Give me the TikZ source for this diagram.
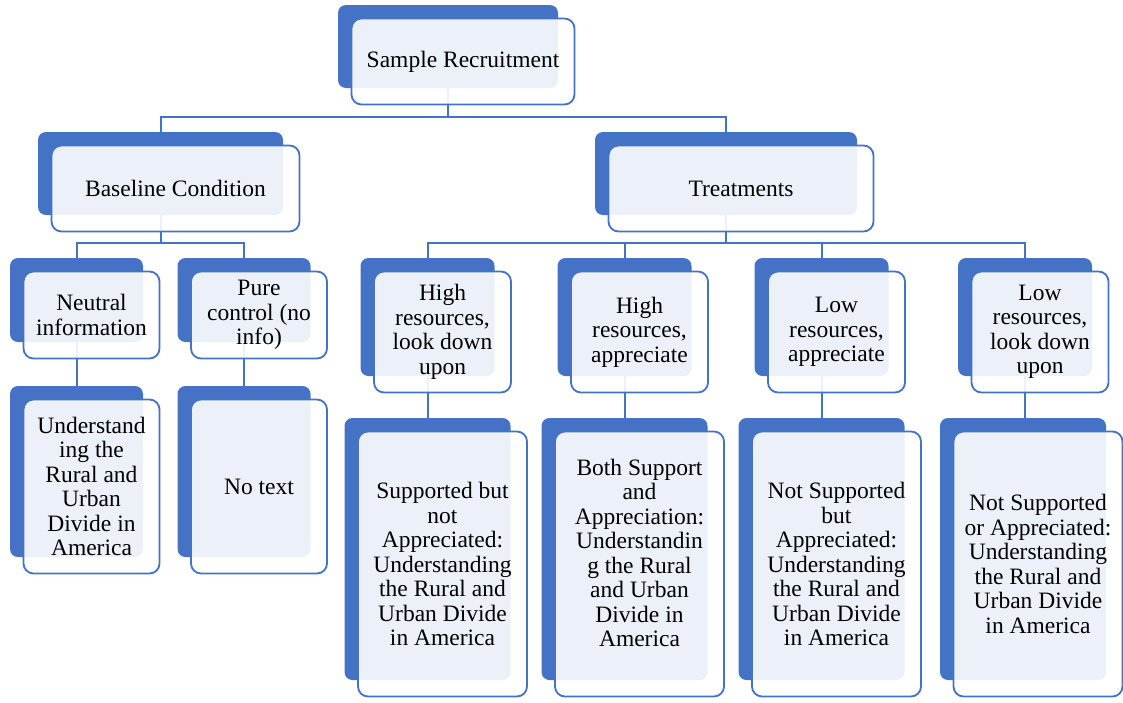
\documentclass[tikz,border=0pt]{standalone}
\usepackage{xcolor}
\usepackage{tikz}
\usepackage{fontspec}
\setmainfont{Liberation Serif}
\newfontfamily\boxfont{Liberation Serif}
\usetikzlibrary{
	positioning,
	calc,
	backgrounds,
	}
\definecolor{smblue}{HTML}{4472C4}
\tikzset{
	backbox/.style={fill=smblue, rounded corners=8pt, inner sep=0pt},
	frontbox/.style={draw=smblue, line width=1.8pt, fill=white, fill opacity=0.9, text opacity=1,
		rounded corners=10pt, inner sep=0pt, align=center,
		font=\boxfont\fontsize{23.5}{24.5}\selectfont, shift={(15,15)}},
	boxsize/.style 2 args={minimum width=#1pt, minimum height=#2pt},
	link/.style={draw=smblue, line width=2pt},
}
\begin{document}
\begin{tikzpicture}[x=1pt, y=-1pt]
		\useasboundingbox (0,0) rectangle (1123,702);
		% top
		\node[backbox, boxsize={220}{83}] (top-b) at (448,46.5) {};
		\node[frontbox, boxsize={223}{86}] (top) at (top-b) {Sample Recruitment};
		% conditions
		\node[backbox, boxsize={245}{83}] (base-b) at (160.5,173.5) {};
		\node[frontbox, boxsize={248}{86}] (base) at (base-b) {Baseline Condition};
		\node[backbox, boxsize={262}{83}] (treat-b) at (726,173.5) {};
		\node[frontbox, boxsize={265}{86}] (treat) at (treat-b) {Treatments};
		% baseline arms
		\node[backbox, boxsize={133}{84}] (neut-b) at (76.5,300) {};
		\node[frontbox, boxsize={136}{87}] (neut) at (neut-b) {Neutral\\information};
		\node[backbox, boxsize={133}{84}] (pure-b) at (244,300) {};
		\node[frontbox, boxsize={136}{87}] (pure) at (pure-b) {Pure\\control (no\\info)};
		\node[backbox, boxsize={133}{171}] (undr-b) at (76.5,471.5) {};
		\node[frontbox, boxsize={136}{174}] (undr) at (undr-b) {Understand\\ing the\\Rural and\\Urban\\Divide in\\America};
		\node[backbox, boxsize={133}{171}] (notx-b) at (244,471.5) {};
		\node[frontbox, boxsize={136}{174}] (notx) at (notx-b) {No text};
		% treatment arms
		\node[backbox, boxsize={134}{118}] (hld-b) at (427.5,317) {};
		\node[frontbox, boxsize={137}{121}] (hld) at (hld-b) {High\\resources,\\look down\\upon};
		\node[backbox, boxsize={134}{118}] (hap-b) at (624.5,317) {};
		\node[frontbox, boxsize={137}{121}] (hap) at (hap-b) {High\\resources,\\appreciate};
		\node[backbox, boxsize={134}{118}] (lap-b) at (821.5,317) {};
		\node[frontbox, boxsize={137}{121}] (lap) at (lap-b) {Low\\resources,\\appreciate};
		\node[backbox, boxsize={134}{118}] (lld-b) at (1025,317) {};
		\node[frontbox, boxsize={137}{121}] (lld) at (lld-b) {Low\\resources,\\look down\\upon};
		\node[backbox, boxsize={166}{262}] (sbna-b) at (427.5,549) {};
		\node[frontbox, boxsize={169}{265}] (sbna) at (sbna-b) {Supported but\\not\\Appreciated:\\Understanding\\the Rural and\\Urban Divide\\in America};
		\node[backbox, boxsize={166}{262}] (bsa-b) at (624.5,549) {};
		\node[frontbox, boxsize={169}{265}] (bsa) at (bsa-b) {Both Support\\and\\Appreciation:\\Understandin\\g the Rural\\and Urban\\Divide in\\America\\[-2pt]\mbox{}};
		\node[backbox, boxsize={166}{262}] (nsba-b) at (821.5,549) {};
		\node[frontbox, boxsize={169}{265}] (nsba) at (nsba-b) {Not Supported\\but\\Appreciated:\\Understanding\\the Rural and\\Urban Divide\\in America};
		\node[backbox, boxsize={166}{262}] (nsoa-b) at (1023,549) {};
		\node[frontbox, boxsize={169}{265}] (nsoa) at (nsoa-b) {Not Supported\\or Appreciated:\\Understanding\\the Rural and\\Urban Divide\\in America};
		% links
		\begin{scope}[on background layer]
			\draw[link] (top-b.south) -- ++(0,29) -| (base-b.north);
			\draw[link] (top-b.south) -- ++(0,29) -| (treat-b.north);
			\draw[link] (base-b.south) -- ++(0,28) -| (neut-b.north);
			\draw[link] (base-b.south) -- ++(0,28) -| (pure-b.north);
			\draw[link] (treat-b.south) -- ++(0,28) -| (hld-b.north);
			\draw[link] (treat-b.south) -- ++(0,28) -| (hap-b.north);
			\draw[link] (treat-b.south) -- ++(0,28) -| (lap-b.north);
			\draw[link] (treat-b.south) -- ++(0,28) -| (lld-b.north);
			\draw[link] (neut-b.south) -- (undr-b.north);
			\draw[link] (pure-b.south) -- (notx-b.north);
			\draw[link] (hld-b.south) -- (sbna-b.north);
			\draw[link] (hap-b.south) -- (bsa-b.north);
			\draw[link] (lap-b.south) -- (nsba-b.north);
			\draw[link] (lld-b.south) -- (lld-b.south |- nsoa-b.north);
		\end{scope}
	\end{tikzpicture}
\end{document}
